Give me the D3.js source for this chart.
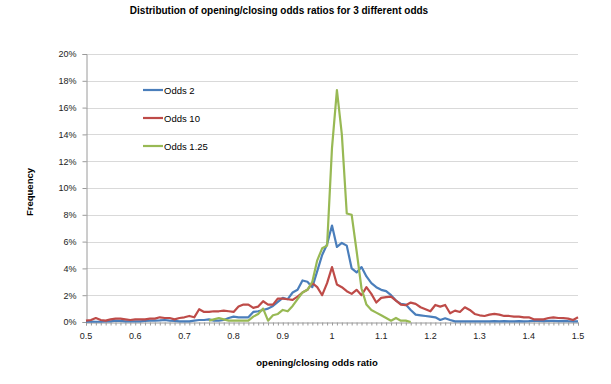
<!DOCTYPE html>
<html>
<head>
<meta charset="utf-8">
<script src="https://cdn.jsdelivr.net/npm/d3@7/dist/d3.min.js"></script>
<style>
  body { margin: 0; background: #fff; }
  svg { font-family: "Liberation Sans", Arial, sans-serif; }
  .grid line { stroke: #d9d9d9; stroke-width: 1; }
  .tick-label { font-size: 9px; fill: #222; }
  .axis-title { font-size: 9.5px; font-weight: bold; fill: #000; }
  .chart-title { font-size: 10px; font-weight: bold; fill: #000; }
  .legend-text { font-size: 9.5px; fill: #000; }
</style>
</head>
<body>
<div id="chart"></div>
<script>
// ratio categories 0.50 .. 1.50 in 0.01 steps
const ratios = d3.range(50, 151).map((d) => d / 100);
const xTickLabels = ["0.5", "0.6", "0.7", "0.8", "0.9", "1", "1.1", "1.2", "1.3", "1.4", "1.5"];
const yTicks = [0, 2, 4, 6, 8, 10, 12, 14, 16, 18, 20];

// frequency in %, one value per ratio category
const odds2 = [
  0.02, 0.03, 0.02, 0.03, 0.05, 0.05, 0.1, 0.08, 0.05, 0.05,
  0.05, 0.05, 0.08, 0.1, 0.1, 0.12, 0.15, 0.1, 0.08, 0.05,
  0.05, 0.05, 0.1, 0.15, 0.15, 0.2, 0.1, 0.1, 0.15, 0.3,
  0.4, 0.35, 0.35, 0.35, 0.75, 0.8, 0.9, 1.0, 1.2, 1.5,
  1.8, 1.7, 2.2, 2.4, 3.1, 3.0, 2.6, 3.8, 5.0, 5.8,
  7.2, 5.6, 5.9, 5.7, 4.0, 3.7, 4.1, 3.4, 2.9, 2.6,
  2.4, 2.3, 2.0, 1.6, 1.35, 1.3, 0.9, 0.55, 0.5, 0.45,
  0.4, 0.35, 0.15, 0.28, 0.15, 0.05, 0.05, 0.04, 0.05, 0.05,
  0.04, 0.05, 0.05, 0.06, 0.05, 0.06, 0.05, 0.05, 0.06, 0.05,
  0.06, 0.08, 0.08, 0.06, 0.08, 0.08, 0.06, 0.08, 0.06, 0.05,
  0.05
];

const odds10 = [
  0.1, 0.15, 0.3, 0.15, 0.1, 0.2, 0.25, 0.25, 0.2, 0.15,
  0.2, 0.2, 0.2, 0.25, 0.25, 0.35, 0.3, 0.3, 0.2, 0.3,
  0.35, 0.45, 0.35, 0.95, 0.75, 0.75, 0.8, 0.8, 0.85, 0.8,
  0.75, 1.15, 1.3, 1.3, 1.05, 1.15, 1.55, 1.3, 1.3, 1.75,
  1.75, 1.7, 1.65, 1.9, 2.2, 2.4, 2.9, 2.6, 2.0, 2.9,
  4.1, 2.8, 2.6, 2.3, 2.1, 2.4, 2.0, 2.6, 2.1, 1.45,
  1.8, 1.85, 1.9, 1.6, 1.3, 1.25, 1.45, 1.35, 1.1, 0.95,
  0.8, 1.27, 1.15, 1.27, 0.65, 0.85, 0.75, 1.1, 0.9, 0.6,
  0.5, 0.45, 0.55, 0.6, 0.55, 0.45, 0.45, 0.4, 0.4, 0.35,
  0.35, 0.2, 0.2, 0.2, 0.3, 0.35, 0.3, 0.3, 0.25, 0.15,
  0.35
];

// odds 1.25 only has values from 0.75 to 1.16
const odds125Start = 0.75;
const odds125 = [
  0.1, 0.2, 0.3, 0.2, 0.1,
  0.1, 0.1, 0.1, 0.1, 0.4, 0.6, 1.0, 0.1, 0.5, 0.6,
  0.9, 0.8, 1.2, 1.7, 2.2, 2.4, 3.0, 4.6, 5.5, 5.7,
  13.0, 17.3, 14.0, 8.1, 8.0, 5.3, 2.5, 1.3, 0.9, 0.7,
  0.5, 0.3, 0.1, 0.3, 0.1, 0.1, 0.0
];

const seriesNames = ["Odds 2", "Odds 10", "Odds 1.25"];
const seriesColors = ["#4a7ebb", "#be4b48", "#98b954"];

const W = 611, H = 384;
const plot = { left: 86, right: 578, top: 54, bottom: 322 };

const svg = d3.select("#chart").append("svg").attr("width", W).attr("height", H);

const x = d3.scaleLinear().domain([0.5, 1.5]).range([plot.left, plot.right]);
const y = d3.scaleLinear().domain([0, 20]).range([plot.bottom, plot.top]);

// title
svg.append("text")
  .attr("class", "chart-title")
  .attr("x", 279).attr("y", 14)
  .attr("text-anchor", "middle")
  .text("Distribution of opening/closing odds ratios for 3 different odds");

// gridlines
svg.append("g").attr("class", "grid")
  .selectAll("line")
  .data(yTicks.filter((d) => d > 0))
  .join("line")
  .attr("x1", plot.left).attr("x2", plot.right)
  .attr("y1", (d) => Math.round(y(d)) + 0.5).attr("y2", (d) => Math.round(y(d)) + 0.5);

// y axis
const yAxis = svg.append("g")
  .attr("transform", `translate(${plot.left + 0.5},0)`)
  .call(d3.axisLeft(y).tickValues(yTicks).tickSize(4).tickFormat((d) => d + "%"));
yAxis.select(".domain").attr("stroke", "#9a9a9a");
yAxis.selectAll(".tick line").attr("stroke", "#9a9a9a");
yAxis.selectAll(".tick text").attr("class", "tick-label").attr("x", -10)
  .style("font-family", null).style("font-size", null);
yAxis.attr("font-family", null).attr("font-size", null);

// x axis: minor ticks every category, labels every 0.1
const xAxis = svg.append("g")
  .attr("transform", `translate(0,${plot.bottom + 0.5})`)
  .call(d3.axisBottom(x).tickValues(ratios).tickSize(3).tickFormat(""));
xAxis.select(".domain").attr("stroke", "#9a9a9a");
xAxis.selectAll(".tick line").attr("stroke", "#9a9a9a");

svg.append("g")
  .selectAll("text")
  .data(xTickLabels)
  .join("text")
  .attr("class", "tick-label")
  .attr("x", (d) => x(+d))
  .attr("y", plot.bottom + 17)
  .attr("text-anchor", "middle")
  .text((d) => d);

// axis titles
svg.append("text")
  .attr("class", "axis-title")
  .attr("transform", `translate(33,${(plot.top + plot.bottom) / 2 + 4}) rotate(-90)`)
  .attr("text-anchor", "middle")
  .text("Frequency");

svg.append("text")
  .attr("class", "axis-title")
  .attr("x", 317).attr("y", 366)
  .attr("text-anchor", "middle")
  .text("opening/closing odds ratio");

// lines
const line = d3.line()
  .x((d) => x(d[0]))
  .y((d) => y(d[1]));

const seriesData = [
  odds2.map((v, i) => [ratios[i], v]),
  odds10.map((v, i) => [ratios[i], v]),
  odds125.map((v, i) => [odds125Start + i / 100, v])
];

svg.append("g")
  .selectAll("path")
  .data(seriesData)
  .join("path")
  .attr("fill", "none")
  .attr("stroke", (d, i) => seriesColors[i])
  .attr("stroke-width", 2.2)
  .attr("stroke-linejoin", "round")
  .attr("d", line);

// legend
const legend = svg.append("g").attr("transform", "translate(143,90)");
const item = legend.selectAll("g")
  .data(seriesNames)
  .join("g")
  .attr("transform", (d, i) => `translate(0,${i * 28})`);
item.append("line")
  .attr("x1", 0).attr("x2", 20)
  .attr("stroke", (d, i) => seriesColors[i])
  .attr("stroke-width", 2.2);
item.append("text")
  .attr("class", "legend-text")
  .attr("x", 21).attr("y", 3.5)
  .text((d) => d);
</script>
</body>
</html>
